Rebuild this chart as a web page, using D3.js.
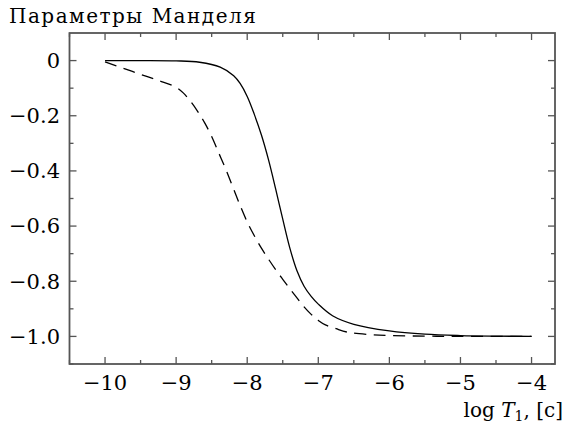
<!DOCTYPE html>
<html>
<head>
<meta charset="utf-8">
<script src="https://cdn.jsdelivr.net/npm/d3@7"></script>
<style>
  body { margin: 0; background: #fff; }
</style>
</head>
<body>
<div id="chart"></div>
<script>
// log T1 values and parameter values
var solidX = [-10, -9.5, -9.0, -8.67, -8.38, -8.19, -8.1, -8.0, -7.9, -7.8, -7.7, -7.6, -7.5, -7.4, -7.3, -7.2, -7.1, -7.0, -6.8, -6.5, -6.0, -5.5, -5.0, -4.5, -4.0]
var solidY = [0, 0, -0.001, -0.006, -0.024, -0.055, -0.083, -0.13, -0.195, -0.27, -0.36, -0.465, -0.575, -0.68, -0.762, -0.818, -0.855, -0.883, -0.925, -0.956, -0.98, -0.992, -0.997, -0.999, -1.0]

var dashedX = [-10, -9.75, -9.5, -9.25, -9.0, -8.9, -8.8, -8.7, -8.6, -8.5, -8.4, -8.3, -8.2, -8.1, -8.0, -7.9, -7.8, -7.7, -7.6, -7.5, -7.4, -7.3, -7.2, -7.1, -7.0, -6.9, -6.75, -6.6, -6.3, -6.0, -5.5, -5.0, -4.0]
var dashedY = [-0.005, -0.027, -0.05, -0.072, -0.097, -0.117, -0.147, -0.183, -0.225, -0.275, -0.335, -0.395, -0.46, -0.525, -0.585, -0.635, -0.68, -0.72, -0.758, -0.793, -0.827, -0.86, -0.893, -0.92, -0.942, -0.958, -0.972, -0.984, -0.993, -0.997, -0.999, -1.0, -1.0]

var xTicks = [-10, -9, -8, -7, -6, -5, -4]
var yTicks = [0, -0.2, -0.4, -0.6, -0.8, -1.0]
var yTickLabels = ["0", "\u22120.2", "\u22120.4", "\u22120.6", "\u22120.8", "\u22121.0"]

var title = "Параметры Манделя"

var width = 574, height = 425
var margin = {top: 33, right: 19, bottom: 61, left: 69.5}
var axisColor = "#555"
var fontFamily = "'DejaVu Serif', 'Liberation Serif', serif"

var svg = d3.select("#chart").append("svg")
    .attr("width", width)
    .attr("height", height)

var xScale = d3.scaleLinear()
    .domain([-10.5, -3.67])
    .range([margin.left, width - margin.right])

var yScale = d3.scaleLinear()
    .domain([-1.1, 0.1])
    .range([height - margin.bottom, margin.top])

// minor ticks every half unit on x, every 0.1 on y
var xMinor = d3.range(-10.5, -3.6, 0.5).filter(function (d) { return xTicks.indexOf(d) < 0 })
var yMinor = d3.range(-11, 1, 1).map(function (d) { return d / 10 })
    .filter(function (d) { return yTicks.indexOf(d) < 0 })

var x0 = xScale.range()[0], x1 = xScale.range()[1]
var y0 = yScale.range()[0], y1 = yScale.range()[1]

// ticks pointing inward on all four sides
var tickGroup = svg.append("g")
    .attr("stroke", axisColor)
    .attr("stroke-width", 1.3)

xTicks.forEach(function (t) {
    tickGroup.append("line").attr("x1", xScale(t)).attr("x2", xScale(t)).attr("y1", y0).attr("y2", y0 - 7)
    tickGroup.append("line").attr("x1", xScale(t)).attr("x2", xScale(t)).attr("y1", y1).attr("y2", y1 + 7)
})
xMinor.forEach(function (t) {
    tickGroup.append("line").attr("x1", xScale(t)).attr("x2", xScale(t)).attr("y1", y0).attr("y2", y0 - 4)
    tickGroup.append("line").attr("x1", xScale(t)).attr("x2", xScale(t)).attr("y1", y1).attr("y2", y1 + 4)
})
yTicks.forEach(function (t) {
    tickGroup.append("line").attr("x1", x0).attr("x2", x0 + 7).attr("y1", yScale(t)).attr("y2", yScale(t))
    tickGroup.append("line").attr("x1", x1).attr("x2", x1 - 7).attr("y1", yScale(t)).attr("y2", yScale(t))
})
yMinor.forEach(function (t) {
    tickGroup.append("line").attr("x1", x0).attr("x2", x0 + 4).attr("y1", yScale(t)).attr("y2", yScale(t))
    tickGroup.append("line").attr("x1", x1).attr("x2", x1 - 4).attr("y1", yScale(t)).attr("y2", yScale(t))
})

svg.append("rect")
    .attr("x", x0)
    .attr("y", y1)
    .attr("width", x1 - x0)
    .attr("height", y0 - y1)
    .attr("fill", "none")
    .attr("stroke", axisColor)
    .attr("stroke-width", 1.8)

// tick labels
svg.append("g").selectAll("text")
    .data(xTicks)
    .enter().append("text")
    .attr("x", function (d) { return xScale(d) })
    .attr("y", 390)
    .attr("text-anchor", "middle")
    .attr("font-family", fontFamily)
    .attr("font-size", 21)
    .text(function (d) { return "\u2212" + Math.abs(d) })

svg.append("g").selectAll("text")
    .data(yTicks)
    .enter().append("text")
    .attr("x", 60)
    .attr("y", function (d) { return yScale(d) })
    .attr("dy", "0.35em")
    .attr("text-anchor", "end")
    .attr("font-family", fontFamily)
    .attr("font-size", 21)
    .text(function (d, i) { return yTickLabels[i] })

// curves
var line = d3.line()
    .x(function (d) { return xScale(d[0]) })
    .y(function (d) { return yScale(d[1]) })
    .curve(d3.curveCatmullRom.alpha(0.5))

svg.append("path")
    .datum(d3.zip(solidX, solidY))
    .attr("d", line)
    .attr("fill", "none")
    .attr("stroke", "#000")
    .attr("stroke-width", 1.3)

svg.append("path")
    .datum(d3.zip(dashedX, dashedY))
    .attr("d", line)
    .attr("fill", "none")
    .attr("stroke", "#000")
    .attr("stroke-width", 1.3)
    .attr("stroke-dasharray", "12,7.5")

// title and axis label
svg.append("text")
    .attr("x", 9)
    .attr("y", 23)
    .attr("font-family", fontFamily)
    .attr("font-size", 20)
    .attr("letter-spacing", 1.5)
    .text(title)

var xLabel = svg.append("text")
    .attr("x", 563)
    .attr("y", 417)
    .attr("text-anchor", "end")
    .attr("font-family", fontFamily)
    .attr("font-size", 20)
xLabel.append("tspan").text("log ")
xLabel.append("tspan").attr("font-style", "italic").text("T")
xLabel.append("tspan").attr("dy", 4).attr("font-size", 14).text("1")
xLabel.append("tspan").attr("dy", -4).text(", [c]")
</script>
</body>
</html>
